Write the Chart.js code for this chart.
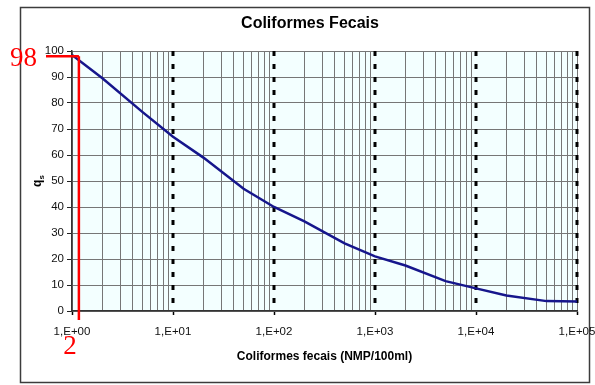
<!DOCTYPE html>
<html>
<head>
<meta charset="utf-8">
<script src="https://cdn.jsdelivr.net/npm/chart.js@4.4.0/dist/chart.umd.min.js"></script>
<style>
  html, body { margin: 0; padding: 0; background: #fff; }
  canvas { display: block; }
</style>
</head>
<body>
<canvas id="qChart" width="595" height="385"></canvas>
<script>
// Quality curve for fecal coliforms: q value against NMP/100ml (log axis)
const coliforms = [1, 2, 5, 10, 20, 50, 100, 200, 500, 1000, 2000, 5000, 10000, 20000, 50000, 100000];
const qValues = [98.5, 89.5, 76.5, 67, 59, 47, 40, 34.5, 26, 21, 17.5, 11.5, 8.7, 6, 3.8, 3.7];

const decades = [1, 10, 100, 1000, 10000, 100000];
const decadeLabels = ['1,E+00', '1,E+01', '1,E+02', '1,E+03', '1,E+04', '1,E+05'];

// reading marked in red
const markQ = 98;
const markX = 1.17;
const markQText = '98';
const markXText = '2';

// 1..9 in every decade for the log grid
const xGridValues = [];
decades.slice(0, -1).forEach(d => {
    for (let k = 1; k < 10; k++) xGridValues.push(d * k);
});
xGridValues.push(decades[decades.length - 1]);

const isDecade = v => decades.includes(v);

Chart.defaults.font.family = 'Arial, "Liberation Sans", sans-serif';
Chart.defaults.color = '#111';

const decorPlugin = {
    id: 'decor',
    beforeDraw(chart) {
        const { ctx, chartArea: a } = chart;
        ctx.save();
        ctx.fillStyle = '#fff';
        ctx.fillRect(0, 0, chart.width, chart.height);
        ctx.strokeStyle = '#3c3c3c';
        ctx.lineWidth = 1.5;
        ctx.strokeRect(20.5, 7.5, 569, 375);
        ctx.fillStyle = '#f3ffff';
        ctx.fillRect(a.left, a.top, a.right - a.left, a.bottom - a.top);
        ctx.restore();
    },
    beforeDatasetsDraw(chart) {
        // dotted lines on each decade
        const { ctx, chartArea: a, scales: { x } } = chart;
        ctx.save();
        ctx.strokeStyle = '#000';
        ctx.lineWidth = 3;
        ctx.setLineDash([5, 8]);
        decades.slice(1).forEach(v => {
            const px = Math.round(x.getPixelForValue(v));
            ctx.beginPath();
            ctx.moveTo(px, a.top);
            ctx.lineTo(px, a.bottom);
            ctx.stroke();
        });
        ctx.restore();
    },
    afterDraw(chart) {
        const { ctx, chartArea: a, scales: { x, y } } = chart;
        ctx.save();

        // chart title
        ctx.fillStyle = '#000';
        ctx.font = 'bold 16px Arial, "Liberation Sans", sans-serif';
        ctx.textAlign = 'center';
        ctx.textBaseline = 'middle';
        ctx.fillText('Coliformes Fecais', 310, 24);

        // y axis title: q with subscript s
        ctx.save();
        ctx.translate(41, 181);
        ctx.rotate(-Math.PI / 2);
        ctx.textAlign = 'left';
        ctx.textBaseline = 'alphabetic';
        ctx.font = 'bold 12px Arial, "Liberation Sans", sans-serif';
        const wq = ctx.measureText('q').width;
        ctx.font = 'bold 8px Arial, "Liberation Sans", sans-serif';
        const ws = ctx.measureText('s').width;
        const x0 = -(wq + ws) / 2;
        ctx.font = 'bold 12px Arial, "Liberation Sans", sans-serif';
        ctx.fillText('q', x0, 0);
        ctx.font = 'bold 8px Arial, "Liberation Sans", sans-serif';
        ctx.fillText('s', x0 + wq, 3);
        ctx.restore();

        // red reading lines
        const yPix = y.getPixelForValue(markQ);
        const xPix = x.getPixelForValue(markX);
        ctx.strokeStyle = '#ff0000';
        ctx.lineWidth = 2.5;
        ctx.beginPath();
        ctx.moveTo(46, yPix);
        ctx.lineTo(xPix, yPix);
        ctx.moveTo(xPix, yPix);
        ctx.lineTo(xPix, a.bottom + 9);
        ctx.stroke();

        ctx.fillStyle = '#ff0000';
        ctx.font = '27px "Liberation Serif", "Times New Roman", serif';
        ctx.textAlign = 'right';
        ctx.textBaseline = 'middle';
        ctx.fillText(markQText, 37, yPix + 3);
        ctx.textAlign = 'center';
        ctx.fillText(markXText, xPix - 9, a.bottom + 36);

        ctx.restore();
    }
};

new Chart(document.getElementById('qChart'), {
    type: 'line',
    data: {
        datasets: [{
            data: coliforms.map((c, i) => ({ x: c, y: qValues[i] })),
            borderColor: '#16168c',
            borderWidth: 2.5,
            pointRadius: 0,
            tension: 0,
            fill: false
        }]
    },
    options: {
        responsive: false,
        animation: false,
        devicePixelRatio: 1,
        layout: { padding: { left: 0, right: 18, top: 51, bottom: 0 } },
        plugins: {
            legend: { display: false },
            tooltip: { enabled: false },
            title: { display: false }
        },
        scales: {
            x: {
                type: 'logarithmic',
                min: 1,
                max: 100000,
                afterBuildTicks: s => { s.ticks = xGridValues.map(v => ({ value: v })); },
                afterFit: s => { s.height = 74; s.paddingLeft = 0; s.paddingRight = 0; },
                ticks: {
                    autoSkip: false,
                    maxRotation: 0,
                    minRotation: 0,
                    padding: 10,
                    color: '#111',
                    font: { size: 11.5 },
                    callback: v => isDecade(v) ? decadeLabels[decades.indexOf(v)] : ''
                },
                grid: {
                    color: ctx => (ctx.tick && isDecade(ctx.tick.value) && ctx.tick.value !== 100000 && ctx.tick.value !== 1) ? 'transparent' : '#767676',
                    lineWidth: 1,
                    tickLength: 4,
                    tickColor: ctx => (ctx.tick && isDecade(ctx.tick.value)) ? '#000' : 'transparent',
                    tickWidth: 1.5
                },
                border: { color: '#333', width: 1.5 },
                title: {
                    display: true,
                    text: 'Coliformes fecais (NMP/100ml)',
                    color: '#000',
                    font: { size: 12, weight: 'bold' },
                    padding: { top: 4, bottom: 21 }
                }
            },
            y: {
                min: 0,
                max: 100,
                afterFit: s => { s.width = 72; },
                ticks: {
                    stepSize: 10,
                    padding: 3,
                    color: '#111',
                    font: { size: 11.5 }
                },
                grid: {
                    color: '#767676',
                    lineWidth: 1,
                    tickLength: 5,
                    tickColor: '#222'
                },
                border: { color: '#333', width: 1.5 }
            }
        }
    },
    plugins: [decorPlugin]
});
</script>
</body>
</html>
